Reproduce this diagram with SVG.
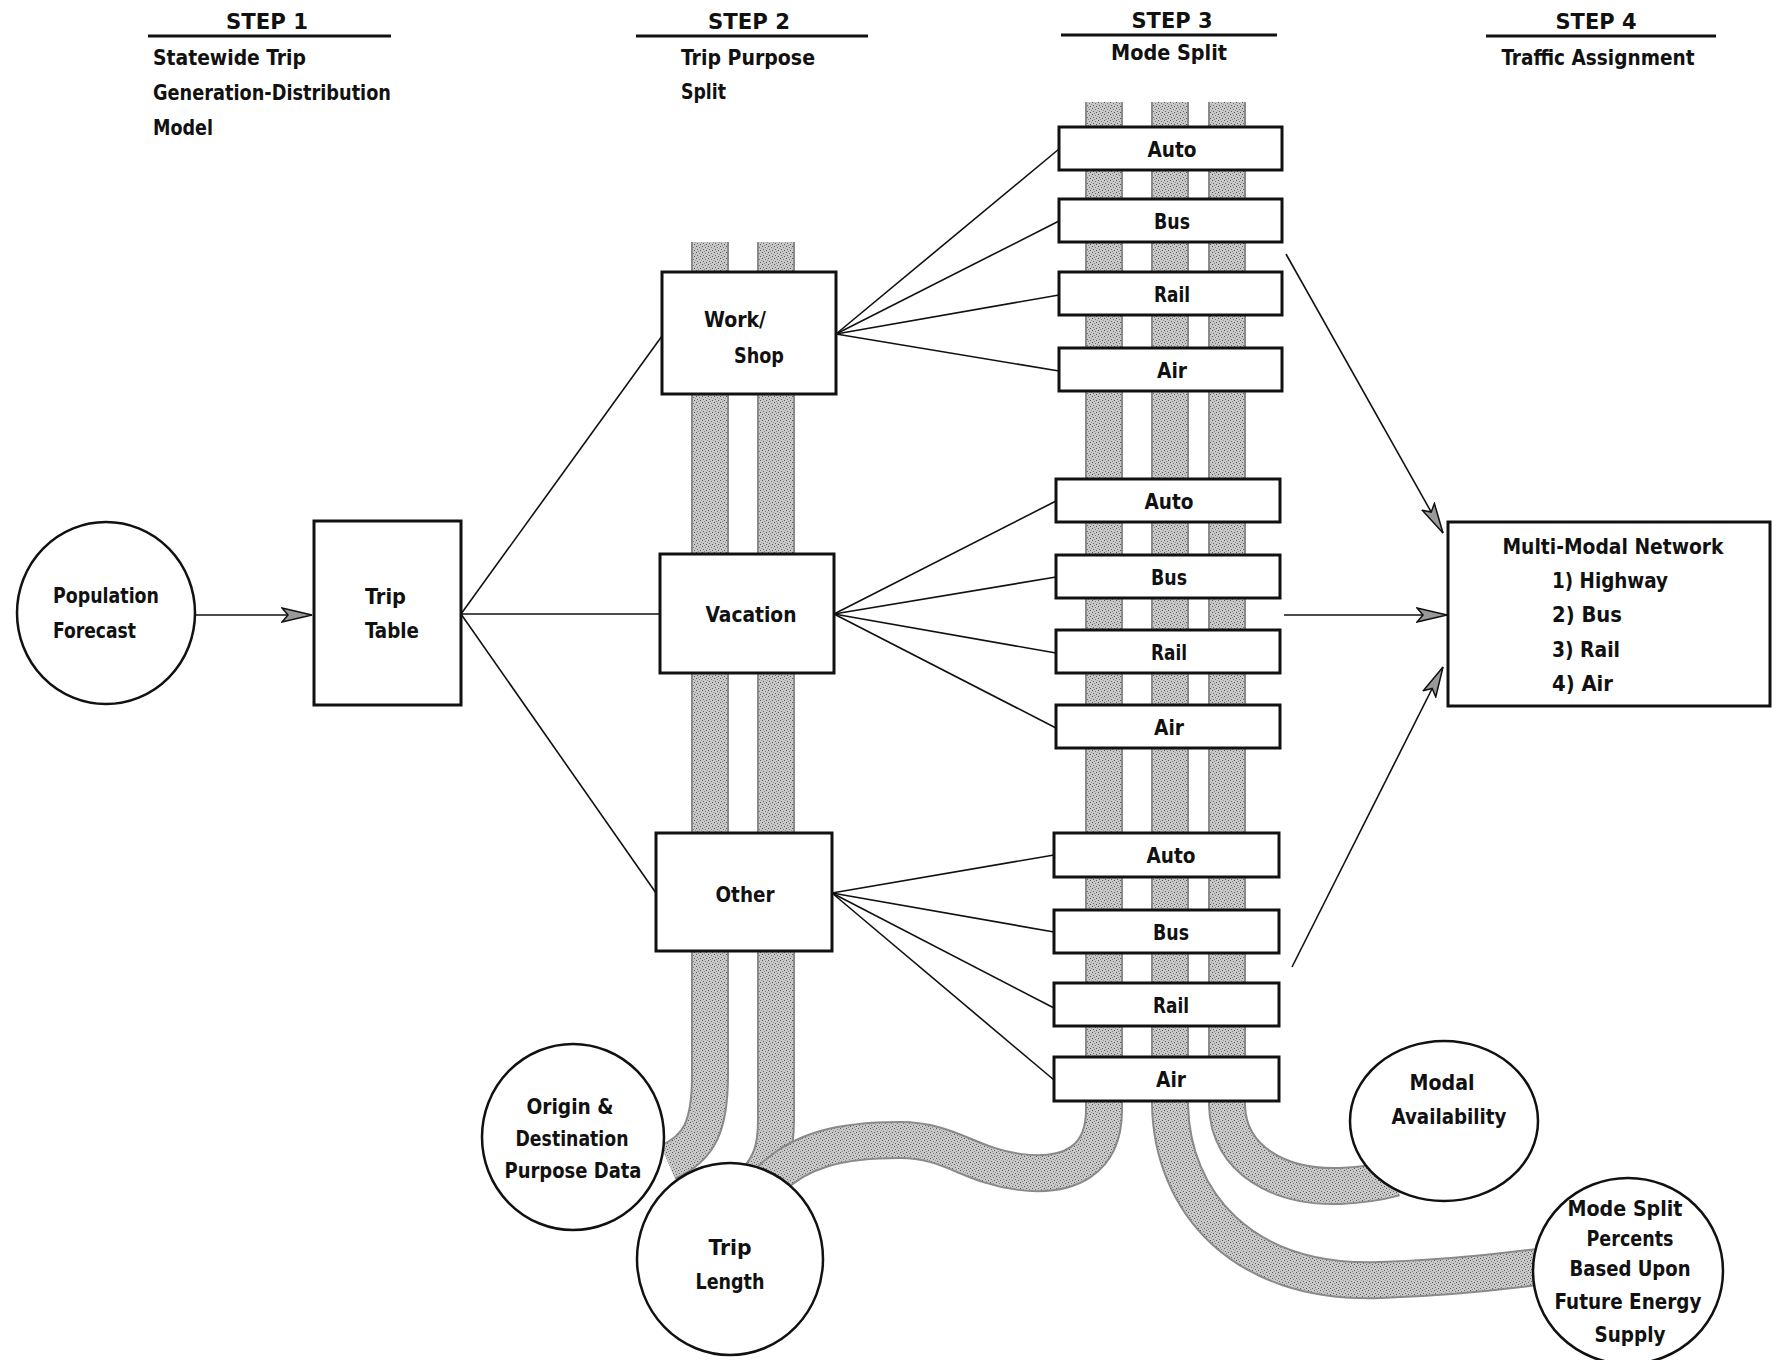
<svg xmlns="http://www.w3.org/2000/svg" width="1779" height="1360" viewBox="0 0 1779 1360">
<defs>
<pattern id="stip" width="6" height="6" patternUnits="userSpaceOnUse">
<rect width="6" height="6" fill="#c8c8c8"/>
<rect x="0" y="0" width="1" height="1" fill="#555"/>
<rect x="3" y="1" width="1" height="1" fill="#777"/>
<rect x="1" y="3" width="1" height="1" fill="#666"/>
<rect x="4" y="4" width="1" height="1" fill="#555"/>
<rect x="2" y="5" width="1" height="1" fill="#888"/>
<rect x="5" y="2" width="1" height="1" fill="#999"/>
</pattern>
<marker id="arr" markerUnits="userSpaceOnUse" markerWidth="34" markerHeight="18" refX="31" refY="8" orient="auto">
<path d="M1,1 L31,8 L1,15 L7,8 Z" fill="#999" stroke="#111" stroke-width="1.5"/>
</marker>
</defs>
<style>
text{font-family:"Liberation Sans Narrow","DejaVu Sans Condensed","Liberation Sans",sans-serif;font-weight:bold;font-size:22px;fill:#111}
.m{text-anchor:middle}
.box{fill:#fff;stroke:#111;stroke-width:3}
.circ{fill:#fff;stroke:#111;stroke-width:2.5}
.ul{stroke:#111;stroke-width:3}
.edge{fill:none;stroke:#8a8a8a;stroke-width:38}
.band{fill:none;stroke:url(#stip);stroke-width:34}
.ln{fill:none;stroke:#111;stroke-width:1.6}
</style>
<rect width="1779" height="1360" fill="#fff"/>

<g id="headers">
<text class="m" x="267" y="29" textLength="82" lengthAdjust="spacingAndGlyphs">STEP 1</text>
<line class="ul" x1="148" y1="36" x2="391" y2="36"/>
<text x="153" y="65" textLength="153" lengthAdjust="spacingAndGlyphs">Statewide Trip</text>
<text x="153" y="100" textLength="238" lengthAdjust="spacingAndGlyphs">Generation-Distribution</text>
<text x="153" y="135" textLength="60" lengthAdjust="spacingAndGlyphs">Model</text>
<text class="m" x="749" y="29" textLength="82" lengthAdjust="spacingAndGlyphs">STEP 2</text>
<line class="ul" x1="636" y1="36" x2="868" y2="36"/>
<text x="681" y="65" textLength="134" lengthAdjust="spacingAndGlyphs">Trip Purpose</text>
<text x="681" y="99" textLength="45" lengthAdjust="spacingAndGlyphs">Split</text>
<text class="m" x="1172" y="28" textLength="81" lengthAdjust="spacingAndGlyphs">STEP 3</text>
<line class="ul" x1="1061" y1="35" x2="1277" y2="35"/>
<text class="m" x="1169" y="60" textLength="116" lengthAdjust="spacingAndGlyphs">Mode Split</text>
<text class="m" x="1596" y="29" textLength="81" lengthAdjust="spacingAndGlyphs">STEP 4</text>
<line class="ul" x1="1486" y1="36" x2="1716" y2="36"/>
<text class="m" x="1598" y="65" textLength="193" lengthAdjust="spacingAndGlyphs">Traffic Assignment</text>
</g>

<g id="bands">
<path class="edge" d="M710 242 V1075 C710 1125 700 1148 668 1162"/>
<path class="band" d="M710 242 V1075 C710 1125 700 1148 668 1162"/>
<path class="edge" d="M776 242 V1120 C776 1150 770 1165 755 1182"/>
<path class="band" d="M776 242 V1120 C776 1150 770 1165 755 1182"/>
<path class="edge" d="M1104 102 V1110 C1104 1160 1070 1178 1020 1172 C970 1166 950 1140 900 1140 C840 1140 800 1150 770 1180"/>
<path class="band" d="M1104 102 V1110 C1104 1160 1070 1178 1020 1172 C970 1166 950 1140 900 1140 C840 1140 800 1150 770 1180"/>
<path class="edge" d="M1170 102 V1105 C1172 1200 1240 1285 1380 1280 C1450 1278 1500 1272 1545 1266"/>
<path class="band" d="M1170 102 V1105 C1172 1200 1240 1285 1380 1280 C1450 1278 1500 1272 1545 1266"/>
<path class="edge" d="M1227 102 V1105 C1228 1160 1280 1188 1340 1186 C1365 1185 1380 1182 1395 1178"/>
<path class="band" d="M1227 102 V1105 C1228 1160 1280 1188 1340 1186 C1365 1185 1380 1182 1395 1178"/>
</g>

<g id="connectors">
<line class="ln" x1="195" y1="615" x2="312" y2="615" marker-end="url(#arr)"/>
<line class="ln" x1="461" y1="614" x2="662" y2="336"/>
<line class="ln" x1="461" y1="614" x2="660" y2="614"/>
<line class="ln" x1="461" y1="614" x2="656" y2="893"/>
<line class="ln" x1="836" y1="334" x2="1059" y2="149"/>
<line class="ln" x1="836" y1="334" x2="1059" y2="221"/>
<line class="ln" x1="836" y1="334" x2="1059" y2="295"/>
<line class="ln" x1="836" y1="334" x2="1059" y2="371"/>
<line class="ln" x1="834" y1="614" x2="1056" y2="501"/>
<line class="ln" x1="834" y1="614" x2="1056" y2="577"/>
<line class="ln" x1="834" y1="614" x2="1056" y2="653"/>
<line class="ln" x1="834" y1="614" x2="1056" y2="728"/>
<line class="ln" x1="832" y1="893" x2="1054" y2="855"/>
<line class="ln" x1="832" y1="893" x2="1054" y2="932"/>
<line class="ln" x1="832" y1="893" x2="1054" y2="1008"/>
<line class="ln" x1="832" y1="893" x2="1054" y2="1080"/>
<line class="ln" x1="1286" y1="254" x2="1443" y2="533" marker-end="url(#arr)"/>
<line class="ln" x1="1284" y1="615" x2="1447" y2="615" marker-end="url(#arr)"/>
<line class="ln" x1="1292" y1="967" x2="1443" y2="667" marker-end="url(#arr)"/>
</g>

<g id="pop"><ellipse class="circ" cx="106" cy="613" rx="89" ry="91"/>
<text x="53" y="603" textLength="106" lengthAdjust="spacingAndGlyphs">Population</text><text x="53" y="638" textLength="83" lengthAdjust="spacingAndGlyphs">Forecast</text></g>

<g id="triptable"><rect class="box" x="314" y="521" width="147" height="184"/>
<text x="365" y="604" textLength="41" lengthAdjust="spacingAndGlyphs">Trip</text><text x="365" y="638" textLength="54" lengthAdjust="spacingAndGlyphs">Table</text></g>

<g id="workshop"><rect class="box" x="662" y="272" width="174" height="122"/>
<text class="m" x="735" y="327" textLength="62" lengthAdjust="spacingAndGlyphs">Work/</text><text class="m" x="759" y="363" textLength="50" lengthAdjust="spacingAndGlyphs">Shop</text></g>

<g id="vacation"><rect class="box" x="660" y="554" width="174" height="119"/>
<text class="m" x="751" y="622" textLength="91" lengthAdjust="spacingAndGlyphs">Vacation</text></g>

<g id="other"><rect class="box" x="656" y="833" width="176" height="118"/>
<text class="m" x="745" y="902" textLength="59" lengthAdjust="spacingAndGlyphs">Other</text></g>

<g id="auto1"><rect class="box" x="1059" y="127" width="223" height="43"/><text class="m" x="1172" y="157" textLength="49" lengthAdjust="spacingAndGlyphs">Auto</text></g>
<g id="bus1"><rect class="box" x="1059" y="199" width="223" height="43"/><text class="m" x="1172" y="229" textLength="36" lengthAdjust="spacingAndGlyphs">Bus</text></g>
<g id="rail1"><rect class="box" x="1059" y="272" width="223" height="43"/><text class="m" x="1172" y="302" textLength="36" lengthAdjust="spacingAndGlyphs">Rail</text></g>
<g id="air1"><rect class="box" x="1059" y="348" width="223" height="43"/><text class="m" x="1172" y="378" textLength="30" lengthAdjust="spacingAndGlyphs">Air</text></g>

<g id="auto2"><rect class="box" x="1056" y="479" width="224" height="43"/><text class="m" x="1169" y="509" textLength="49" lengthAdjust="spacingAndGlyphs">Auto</text></g>
<g id="bus2"><rect class="box" x="1056" y="555" width="224" height="43"/><text class="m" x="1169" y="585" textLength="36" lengthAdjust="spacingAndGlyphs">Bus</text></g>
<g id="rail2"><rect class="box" x="1056" y="630" width="224" height="43"/><text class="m" x="1169" y="660" textLength="36" lengthAdjust="spacingAndGlyphs">Rail</text></g>
<g id="air2"><rect class="box" x="1056" y="705" width="224" height="43"/><text class="m" x="1169" y="735" textLength="30" lengthAdjust="spacingAndGlyphs">Air</text></g>

<g id="auto3"><rect class="box" x="1054" y="833" width="225" height="44"/><text class="m" x="1171" y="863" textLength="49" lengthAdjust="spacingAndGlyphs">Auto</text></g>
<g id="bus3"><rect class="box" x="1054" y="910" width="225" height="43"/><text class="m" x="1171" y="940" textLength="36" lengthAdjust="spacingAndGlyphs">Bus</text></g>
<g id="rail3"><rect class="box" x="1054" y="983" width="225" height="43"/><text class="m" x="1171" y="1013" textLength="36" lengthAdjust="spacingAndGlyphs">Rail</text></g>
<g id="air3"><rect class="box" x="1054" y="1057" width="225" height="44"/><text class="m" x="1171" y="1087" textLength="30" lengthAdjust="spacingAndGlyphs">Air</text></g>

<g id="network"><rect class="box" x="1448" y="522" width="322" height="184"/>
<text class="m" x="1613" y="554" textLength="221" lengthAdjust="spacingAndGlyphs">Multi-Modal  Network</text>
<text x="1552" y="588" textLength="116" lengthAdjust="spacingAndGlyphs">1)  Highway</text>
<text x="1552" y="622" textLength="70" lengthAdjust="spacingAndGlyphs">2)  Bus</text>
<text x="1552" y="657" textLength="68" lengthAdjust="spacingAndGlyphs">3)  Rail</text>
<text x="1552" y="691" textLength="61" lengthAdjust="spacingAndGlyphs">4)  Air</text></g>

<g id="origin"><ellipse class="circ" cx="573" cy="1137" rx="91" ry="93"/>
<text class="m" x="570" y="1114" textLength="87" lengthAdjust="spacingAndGlyphs">Origin &amp;</text>
<text class="m" x="572" y="1146" textLength="113" lengthAdjust="spacingAndGlyphs">Destination</text>
<text class="m" x="573" y="1178" textLength="137" lengthAdjust="spacingAndGlyphs">Purpose  Data</text></g>

<g id="triplength"><ellipse class="circ" cx="730" cy="1259" rx="93" ry="96"/>
<text class="m" x="730" y="1255" textLength="43" lengthAdjust="spacingAndGlyphs">Trip</text><text class="m" x="730" y="1289" textLength="69" lengthAdjust="spacingAndGlyphs">Length</text></g>

<g id="modal"><ellipse class="circ" cx="1444" cy="1121" rx="94" ry="80"/>
<text class="m" x="1442" y="1090" textLength="65" lengthAdjust="spacingAndGlyphs">Modal</text><text class="m" x="1449" y="1124" textLength="115" lengthAdjust="spacingAndGlyphs">Availability</text></g>

<g id="modesplit"><ellipse class="circ" cx="1628" cy="1271" rx="95" ry="93"/>
<text class="m" x="1625" y="1216" textLength="115" lengthAdjust="spacingAndGlyphs">Mode Split</text>
<text class="m" x="1630" y="1246" textLength="87" lengthAdjust="spacingAndGlyphs">Percents</text>
<text class="m" x="1630" y="1276" textLength="121" lengthAdjust="spacingAndGlyphs">Based  Upon</text>
<text class="m" x="1628" y="1309" textLength="147" lengthAdjust="spacingAndGlyphs">Future Energy</text>
<text class="m" x="1630" y="1342" textLength="71" lengthAdjust="spacingAndGlyphs">Supply</text></g>
</svg>
